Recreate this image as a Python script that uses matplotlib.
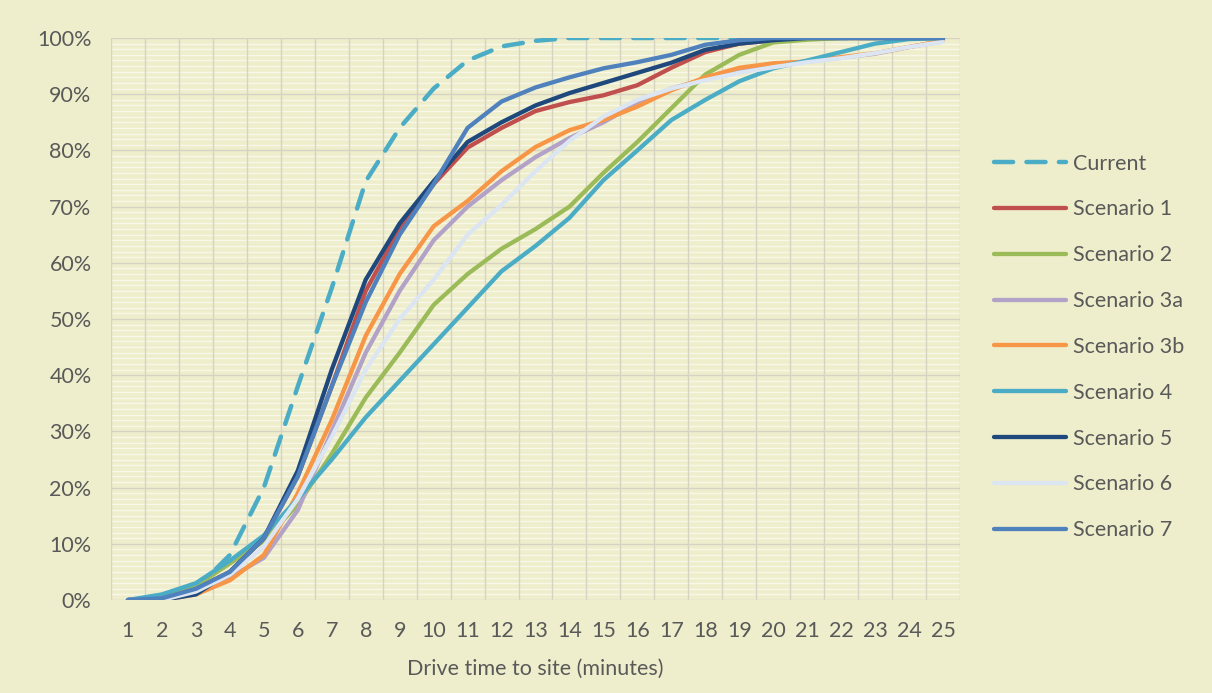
import numpy as np
import matplotlib
matplotlib.use("Agg")
import matplotlib.pyplot as plt
from matplotlib.ticker import FixedLocator, FuncFormatter

plt.rcParams['font.family'] = ['Lato', 'DejaVu Sans']

# drive time categories (minutes)
minutes = list(range(1, 26))

# cumulative % of sites reached
current = [0, 0.5, 2, 8, 20, 38, 55.5, 74.5, 84, 91, 96, 98.5, 99.5, 100, 100,
           100, 100, 100, 100, 100, 100, 100, 100, 100, 100]
scenario_1 = [0, 0.3, 2, 5, 11, 22, 38, 55, 66, 74, 80.5, 84, 87, 88.6, 89.8,
              91.6, 94.7, 97.5, 99, 99.6, 100, 100, 100, 100, 100]
scenario_2 = [0, 0.5, 2.5, 6.5, 10.5, 17, 26, 36, 44, 52.5, 58, 62.5, 66, 70, 76,
              81.5, 87.5, 93.5, 97, 99.2, 99.7, 100, 100, 100, 100]
scenario_3a = [0, 0, 1.5, 4, 7.5, 16, 30, 44, 55, 64, 70, 74.7, 78.8, 82.2, 85,
               88.4, 91, 92.7, 94, 95.3, 95.8, 96.5, 97.2, 98.4, 99.4]
scenario_3b = [0, 0, 1, 3.5, 8, 19, 32, 47, 58, 66.5, 71, 76.3, 80.6, 83.6, 85.4,
               87.8, 90.7, 93, 94.7, 95.5, 95.8, 96.6, 97.3, 98.4, 99.5]
scenario_4 = [0, 1, 3, 7, 11.5, 18, 25, 32.5, 39, 45.5, 52, 58.5, 63, 68, 74.7,
              80, 85.4, 89, 92.3, 94.6, 96, 97.5, 99, 99.8, 100]
scenario_5 = [0, 0, 1, 5, 11, 23, 41, 57, 67, 74.5, 81.5, 85, 88, 90.2, 92,
              93.8, 95.6, 97.9, 99, 99.6, 100, 100, 100, 100, 100]
scenario_6 = [0, 0, 1.5, 4.5, 9.5, 18, 29, 41, 50, 57, 65, 70.3, 76.3, 81.7, 86,
              89, 91, 92.5, 93.8, 94.8, 95.7, 96.4, 97.3, 98.4, 99.3]
scenario_7 = [0, 0.3, 2, 5, 11, 22, 38, 53, 65, 74, 84, 88.7, 91.2, 93, 94.6,
              95.7, 97, 98.8, 99.6, 100, 100, 100, 100, 100, 100]

labels = ['Current', 'Scenario 1', 'Scenario 2', 'Scenario 3a', 'Scenario 3b',
          'Scenario 4', 'Scenario 5', 'Scenario 6', 'Scenario 7']
series = [current, scenario_1, scenario_2, scenario_3a, scenario_3b,
          scenario_4, scenario_5, scenario_6, scenario_7]
colors = ['#4BACC6', '#C0504D', '#9BBB59', '#B3A2C7', '#F79646',
          '#4BACC6', '#1F497D', '#DCE6F2', '#4F81BD']

bg = '#EFEECC'
grid_col = '#D6D3C3'
txt = '#595959'
fs = 15.5

fig = plt.figure(figsize=(12.12, 6.93), dpi=100, facecolor=bg)
ax = fig.add_axes([111/1212, 1-600/693, (960-111)/1212, (600-38)/693])
ax.set_facecolor(bg)

# grid: white minor lines every 1%, grey major every 10%, grey category borders
for v in range(1, 100):
    if v % 10:
        ax.axhline(v, color='white', lw=0.9, alpha=0.6, zorder=0)
for v in range(0, 101, 10):
    ax.axhline(v, color=grid_col, lw=1.0, zorder=0.5)
for b in np.arange(0.5, 26, 1):
    ax.axvline(b, color=grid_col, lw=1.0, zorder=0.5)

for lab, vals, c in zip(labels, series, colors):
    if lab == 'Current':
        ax.plot(minutes, vals, color=c, lw=3.2, dashes=(4.3, 3.0),
                dash_capstyle='round', label=lab, zorder=2)
    else:
        ax.plot(minutes, vals, color=c, lw=3.1, solid_capstyle='round',
                solid_joinstyle='round', label=lab, zorder=2)

ax.set_xlim(0.5, 25.5)
ax.set_ylim(0, 100)
ax.xaxis.set_major_locator(FixedLocator(minutes))
ax.yaxis.set_major_locator(FixedLocator(range(0, 101, 10)))
ax.yaxis.set_major_formatter(FuncFormatter(lambda v, p: f'{int(v)}%'))
for s in ax.spines.values():
    s.set_visible(False)
ax.tick_params(axis='both', length=0, labelsize=fs, colors=txt)
ax.tick_params(axis='x', pad=15)
ax.tick_params(axis='y', pad=14)
ax.set_xlabel('Drive time to site (minutes)', fontsize=fs, color=txt, labelpad=13)

fig.legend(loc='center left', bbox_to_anchor=(994/1212, 1-347/693),
           frameon=False, fontsize=fs, labelcolor=txt, handlelength=3.35,
           handletextpad=0.3, labelspacing=1.2, borderpad=0, borderaxespad=0)

fig.savefig('out.png', dpi=100, facecolor=bg)
